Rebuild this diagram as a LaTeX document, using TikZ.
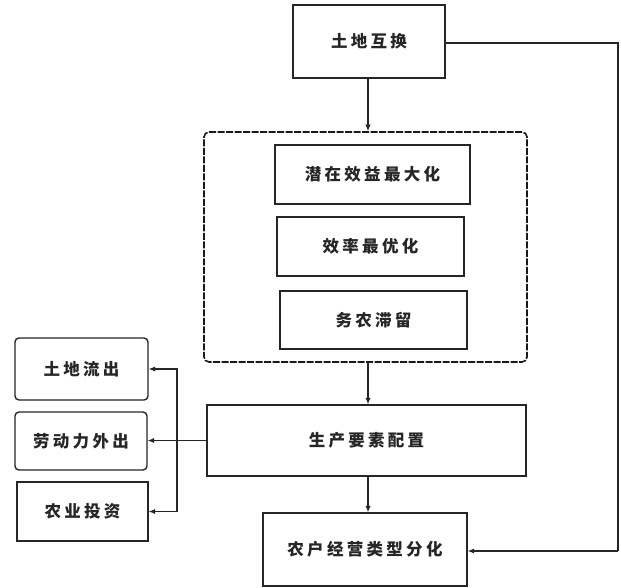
\documentclass[tikz,border=0pt]{standalone}
\usepackage{fontspec}
\newfontfamily\cjk{Noto Sans CJK SC}[LetterSpace=20]
\usetikzlibrary{arrows.meta}
\begin{document}
\begin{tikzpicture}[x=1pt,y=-1pt,
  box/.style={draw=black!85,line width=1.4pt,fill=white,inner sep=0pt,
    font=\cjk\bfseries\fontsize{16.5}{18}\selectfont,text=black!85},
  rbox/.style={box,rounded corners=4pt},
  conn/.style={draw=black!85,line width=1.3pt},
  arr/.style={conn,-{Latex[length=6.5pt,width=5.5pt]}}]
\useasboundingbox (0,0) rectangle (621,588);
\fill[white] (0,0) rectangle (621,588);
% nodes
\node[box,minimum width=152pt,minimum height=73pt] (top) at (369,41.5) {土地互换};
\node[draw=black!90,line width=1.6pt,dash pattern=on 7pt off 1.5pt,rounded corners=5pt,
  minimum width=323pt,minimum height=230pt,inner sep=0pt] (grp) at (365.5,247) {};
\node[box,minimum width=195pt,minimum height=59pt] (b1) at (372.5,174.5) {潜在效益最大化};
\node[box,minimum width=187pt,minimum height=59pt] (b2) at (370.5,246.5) {效率最优化};
\node[box,minimum width=187pt,minimum height=58pt] (b3) at (373.5,320) {务农滞留};
\node[box,minimum width=319pt,minimum height=71pt] (mid) at (366.5,440.5) {生产要素配置};
\node[box,minimum width=204pt,minimum height=73pt] (bot) at (365,549.5) {农户经营类型分化};
\node[rbox,minimum width=133pt,minimum height=62pt] (l1) at (81.5,369) {土地流出};
\node[rbox,minimum width=132pt,minimum height=58pt] (l2) at (81,441) {劳动力外出};
\node[box,minimum width=131pt,minimum height=59pt] (l3) at (82.5,511.5) {农业投资};
% connectors
\coordinate (tr) at (618,43);
\coordinate (br) at (618,551);
\coordinate (bm) at (177,440.5);
\draw[arr] (top.south -| 368,0) -- (grp.north -| 368,0);
\draw[arr] (grp.south -| 368,0) -- (mid.north -| 368,0);
\draw[arr] (mid.south -| 368,0) -- (bot.north -| 368,0);
\draw[conn] (top.east |- tr) -- (tr) -- (br);
\draw[arr] (br) -- (bot.east |- br);
\draw[arr] (mid.west |- bm) -- (l2.east |- bm);
\draw[arr] (bm) |- (l1.east);
\draw[arr] (bm) |- (l3.east);
\end{tikzpicture}
\end{document}
